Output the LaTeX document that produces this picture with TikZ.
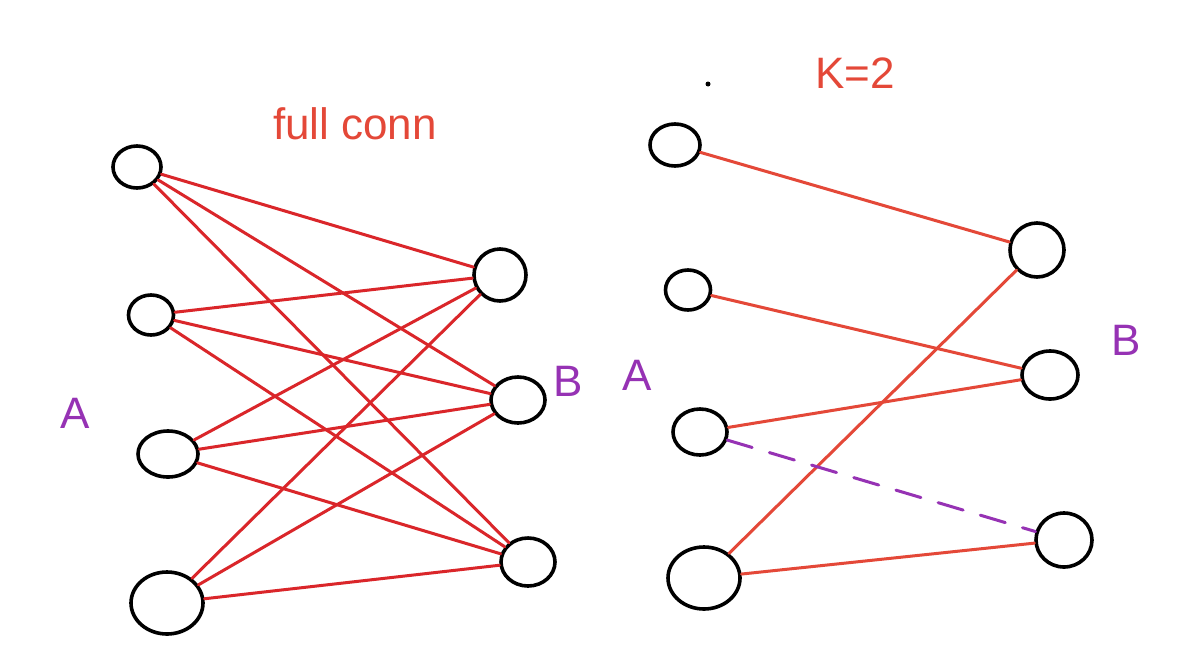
\documentclass[tikz,border=0pt]{standalone}
\usepackage{fontspec}
\setmainfont{Liberation Sans}
\usetikzlibrary{shapes.geometric}
\definecolor{penred}{RGB}{218,38,42}
\definecolor{penorange}{RGB}{228,72,56}
\definecolor{penpurple}{RGB}{150,50,180}
\begin{document}
\begin{tikzpicture}[x=1pt,y=-1pt,
  nd/.style={draw=black,line width=3.6pt,ellipse,inner sep=0pt},
  redline/.style={draw=penred,line width=3pt,line cap=round},
  orline/.style={draw=penorange,line width=3pt,line cap=round},
  lbl/.style={text=penpurple,font=\fontsize{44}{48}\selectfont},
  ttl/.style={text=penorange,font=\fontsize{44}{48}\selectfont}]
\useasboundingbox (0,0) rectangle (1182,662);
\fill[white] (0,0) rectangle (1182,662);
% left graph nodes
\node[nd,minimum width=48pt,minimum height=42pt] (L1) at (137,167) {};
\node[nd,minimum width=45pt,minimum height=40pt] (L2) at (151,315) {};
\node[nd,minimum width=60pt,minimum height=46pt] (L3) at (168,454) {};
\node[nd,minimum width=72pt,minimum height=62pt] (L4) at (167,603) {};
\node[nd,minimum width=52pt,minimum height=52pt] (R1) at (500,275) {};
\node[nd,minimum width=54pt,minimum height=46pt] (R2) at (518,400) {};
\node[nd,minimum width=54pt,minimum height=48pt] (R3) at (528,562) {};
% full connections
\foreach \s in {L1,L2,L3,L4}{
  \foreach \t in {R1,R2,R3}{
    \draw[redline] (\s) -- (\t);
  }
}
% right graph nodes
\node[nd,minimum width=50pt,minimum height=42pt] (a1) at (675,145) {};
\node[nd,minimum width=45pt,minimum height=40pt] (a2) at (688,290) {};
\node[nd,minimum width=54pt,minimum height=46pt] (a3) at (700,432) {};
\node[nd,minimum width=72pt,minimum height=62pt] (a4) at (704,578) {};
\node[nd,minimum width=54pt,minimum height=54pt] (b1) at (1037,250) {};
\node[nd,minimum width=56pt,minimum height=48pt] (b2) at (1050,375) {};
\node[nd,minimum width=56pt,minimum height=54pt] (b3) at (1064,540) {};
\draw[orline] (a1) -- (b1);
\draw[orline] (a2) -- (b2);
\draw[orline] (a3) -- (b2);
\draw[orline] (a4) -- (b1);
\draw[orline] (a4) -- (b3);
\draw[draw=penpurple,line width=3pt,dash pattern=on 26pt off 18pt,line cap=round] (a3) -- (b3);
% labels
\node[ttl] (t1) at (355,124) {full conn};
\node[ttl] (t2) at (855,73) {K=2};
\node[lbl] (lA) at (75,413) {A};
\node[lbl] (lB) at (568,381) {B};
\node[lbl] (rA) at (637,375) {A};
\node[lbl] (rB) at (1126,340) {B};
\fill[black] (708,84) circle (2.5pt);
\end{tikzpicture}
\end{document}
